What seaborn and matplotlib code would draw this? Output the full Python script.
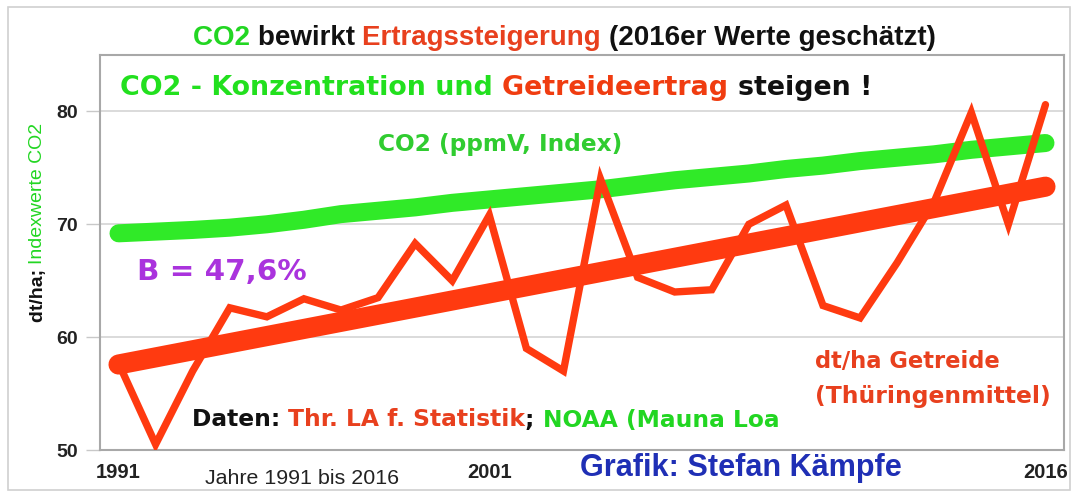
import numpy as np
import pandas as pd
import matplotlib
matplotlib.use("Agg")
import matplotlib.pyplot as plt
from matplotlib import font_manager
from matplotlib.patches import Rectangle
import seaborn as sns

# ---------------- data ----------------
years = list(range(1991, 2017))
ertrag = [57.7, 50.5, 57.0, 62.6, 61.8, 63.4, 62.4, 63.5, 68.3, 65.0,
          70.8, 59.0, 57.0, 74.0, 65.3, 64.0, 64.2, 70.0, 71.7, 62.8,
          61.7, 66.6, 72.0, 79.9, 70.0, 80.6]
co2_index = [69.2, 69.35, 69.5, 69.7, 70.0, 70.4, 70.9, 71.2, 71.5, 71.9,
             72.2, 72.5, 72.8, 73.1, 73.5, 73.9, 74.2, 74.5, 74.9, 75.2,
             75.6, 75.9, 76.2, 76.6, 76.9, 77.2]
ytick_values = [50, 60, 70, 80]
xtick_years = [1991, 2001, 2016]
xtick_labels = ["1991", "2001", "2016"]

df = pd.DataFrame({"Jahr": years, "Ertrag": ertrag, "CO2": co2_index})

# ---------------- style ----------------
sns.set_theme(style="white")
plt.rcParams["font.family"] = ["Liberation Sans", "DejaVu Sans"]
names = {f.name for f in font_manager.fontManager.ttflist}
NARROW = "Liberation Sans Narrow" if "Liberation Sans Narrow" in names else "Liberation Sans"

GREEN_LINE = "#30ea28"
GREEN_TXT = "#22d622"
RED_LINE = "#ff3a10"
RED_TXT = "#e8401e"
PURPLE = "#aa33dd"
BLUE = "#1f2fb5"
GRAY = "#a8a8a8"

W, H = 1077, 492
fig = plt.figure(figsize=(W / 100, H / 100), dpi=100)
fig.patch.set_facecolor("white")
ax = fig.add_axes([100 / W, (H - 450) / H, 964 / W, 395 / H])

sns.lineplot(data=df, x="Jahr", y="CO2", ax=ax, color=GREEN_LINE, lw=13,
             solid_capstyle="round", solid_joinstyle="round", zorder=3)
sns.regplot(data=df, x="Jahr", y="Ertrag", ax=ax, scatter=False, ci=None,
            color=RED_LINE, line_kws=dict(lw=14.5, solid_capstyle="round", zorder=4))
sns.lineplot(data=df, x="Jahr", y="Ertrag", ax=ax, color=RED_LINE, lw=5.3,
             solid_joinstyle="miter", zorder=5)

ax.set_xlim(1990.5, 2016.5)
ax.set_ylim(50, 85)
ax.set_yticks(ytick_values)
ax.set_yticklabels([str(v) for v in ytick_values], fontsize=14, fontweight="bold",
                   color="#222222")
ax.set_xticks(xtick_years)
ax.set_xticklabels(xtick_labels, fontsize=14.5, fontweight="bold", color="#222222")
ax.tick_params(axis="y", length=10, width=1, color="#c8c8c8", pad=6, left=True)
ax.tick_params(axis="x", length=0, pad=9)
ax.set_xlabel("")
ax.set_ylabel("")
ax.yaxis.grid(True, color="#d4d4d4", lw=1.2)
ax.xaxis.grid(False)
for sp in ax.spines.values():
    sp.set_color(GRAY)
    sp.set_linewidth(1.5)
    sp.set_visible(True)

# outer frame
fig.patches.append(Rectangle((8 / W, 2 / H), (1070 - 8) / W, (485 - 2) / H,
                             transform=fig.transFigure, fill=False,
                             edgecolor="#d0d0d0", lw=1.2))

renderer = fig.canvas.get_renderer()


def colored_line(parts, x0, x1, yc, family, weight="bold"):
    """Draw a line of differently coloured pieces fitted between x0 and x1 (px)."""
    ref = 10.0
    total = 0.0
    for s, c in parts:
        t = fig.text(0, 0, s, fontsize=ref, family=family, weight=weight)
        total += t.get_window_extent(renderer).width
        t.remove()
    size = ref * (x1 - x0) / total
    x = x0
    for s, c in parts:
        t = fig.text(x / W, 1 - yc / H, s, fontsize=size, family=family,
                     weight=weight, color=c, ha="left", va="center")
        x += t.get_window_extent(renderer).width
    return size


colored_line([("CO2 ", GREEN_TXT), ("bewirkt ", "#111111"),
              ("Ertragssteigerung ", RED_TXT), ("(2016er Werte geschätzt)", "#111111")],
             193, 940, 38, ["Liberation Sans", "DejaVu Sans"])
colored_line([("CO2 - Konzentration und ", "#22e01e"), ("Getreideertrag ", "#f03c10"),
              ("steigen !", "#111111")], 120, 875, 88, ["DejaVu Sans"])
colored_line([("CO2 (ppmV, Index)", "#30cc30")], 378, 623, 145, ["DejaVu Sans"])
colored_line([("B = 47,6%", PURPLE)], 137, 307, 272, ["DejaVu Sans"])
colored_line([("dt/ha Getreide", RED_TXT)], 815, 1000, 362, ["DejaVu Sans"])
colored_line([("(Thüringenmittel)", RED_TXT)], 815, 1050, 397, ["DejaVu Sans"])
colored_line([("Daten: ", "#111111"), ("Thr. LA f. Statistik", RED_TXT), ("; ", "#111111"),
              ("NOAA (Mauna Loa", "#22d622")], 192, 780, 420, ["DejaVu Sans"])
colored_line([("Jahre 1991 bis 2016", "#222222")], 205, 398, 478, [NARROW, "Liberation Sans"],
             weight="normal")
colored_line([("Grafik: Stefan Kämpfe", BLUE)], 580, 902, 468, [NARROW, "Liberation Sans"])

# rotated two-colour y label
y = H - 322
for s, c, w in [("dt/ha; ", "#111111", "bold"), ("Indexwerte CO2", GREEN_TXT, "normal")]:
    t = fig.text(38 / W, y / H, s, fontsize=14, family=["Liberation Sans"], weight=w,
                 color=c, rotation=90, ha="center", va="bottom")
    y += t.get_window_extent(renderer).height

fig.savefig("out.png", dpi=100)
